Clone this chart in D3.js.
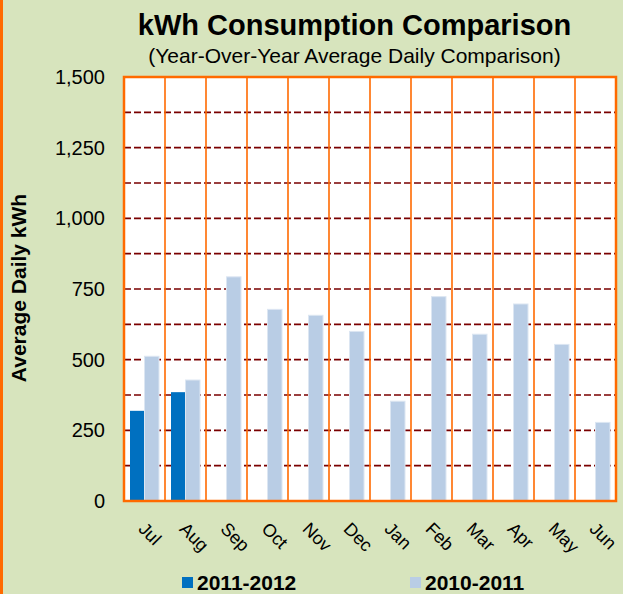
<!DOCTYPE html>
<html>
<head>
<meta charset="utf-8">
<script src="https://cdn.jsdelivr.net/npm/d3@7.9.0/dist/d3.min.js"></script>
<style>
  html, body { margin: 0; padding: 0; background: #D7E4BD; }
  svg { display: block; font-family: "Liberation Sans", Arial, sans-serif; }
</style>
</head>
<body>
<svg id="chart" width="623" height="594"></svg>
<script>
// chart data
const months = ["Jul", "Aug", "Sep", "Oct", "Nov", "Dec", "Jan", "Feb", "Mar", "Apr", "May", "Jun"];
const seriesNames = ["2011-2012", "2010-2011"];
const values2011_12 = [319, 385, null, null, null, null, null, null, null, null, null, null];
const values2010_11 = [512, 428, 793, 678, 657, 600, 353, 723, 590, 697, 554, 278];
const yTicks = [0, 250, 500, 750, 1000, 1250, 1500];
const gridValues = [125, 250, 375, 500, 625, 750, 875, 1000, 1125, 1250, 1375];

const colors = { "2011-2012": "#0070C0", "2010-2011": "#B9CDE5" };
const font = "'Liberation Sans', Arial, sans-serif";

const svg = d3.select("#chart");
const width = 623, height = 594;
const plotLeft = 124, plotRight = 616, plotTop = 77, plotBottom = 501;

// background + left orange edge
svg.append("rect").attr("width", width).attr("height", height).attr("fill", "#D7E4BD");
svg.append("rect").attr("x", 0).attr("y", 0).attr("width", 3).attr("height", height).attr("fill", "#FF6A00");

// titles
svg.append("text").attr("x", 354.5).attr("y", 35).attr("text-anchor", "middle")
    .attr("font-size", 29).attr("font-weight", "bold").attr("fill", "#000")
    .text("kWh Consumption Comparison");
svg.append("text").attr("x", 354.5).attr("y", 63).attr("text-anchor", "middle")
    .attr("font-size", 21).attr("fill", "#000")
    .text("(Year-Over-Year Average Daily Comparison)");

const x0 = d3.scaleBand().domain(months).range([plotLeft, plotRight]).padding(0);
const x1 = d3.scaleBand().domain(seriesNames).range([6, x0.bandwidth() - 6]).padding(0);
const y = d3.scaleLinear().domain([0, 1500]).range([plotBottom, plotTop]);

// plot area
svg.append("rect").attr("x", plotLeft).attr("y", plotTop)
    .attr("width", plotRight - plotLeft).attr("height", plotBottom - plotTop)
    .attr("fill", "#fff");

// horizontal dashed grid
svg.append("g").selectAll("line").data(gridValues).enter().append("line")
    .attr("x1", plotLeft).attr("x2", plotRight)
    .attr("y1", d => y(d)).attr("y2", d => y(d))
    .attr("stroke", "#7A0000").attr("stroke-width", 1.6).attr("stroke-dasharray", "7,3");

// vertical orange grid at category boundaries
svg.append("g").selectAll("line").data(months.slice(1)).enter().append("line")
    .attr("x1", d => x0(d)).attr("x2", d => x0(d))
    .attr("y1", plotTop).attr("y2", plotBottom)
    .attr("stroke", "#FF6A00").attr("stroke-width", 1.6);

// bars
const rows = months.map((m, i) => ({ month: m, vals: [
    { key: "2011-2012", value: values2011_12[i] },
    { key: "2010-2011", value: values2010_11[i] }
] }));

svg.append("g").selectAll("g").data(rows).enter().append("g")
    .attr("transform", d => `translate(${x0(d.month)},0)`)
    .selectAll("rect").data(d => d.vals.filter(v => v.value != null)).enter().append("rect")
    .attr("x", d => x1(d.key))
    .attr("y", d => y(d.value))
    .attr("width", x1.bandwidth())
    .attr("height", d => y(0) - y(d.value))
    .attr("fill", d => colors[d.key])
    .attr("stroke", d => d.key === "2010-2011" ? "#DCE6F2" : "none")
    .attr("stroke-width", 1);

// plot border
svg.append("rect").attr("x", plotLeft).attr("y", plotTop)
    .attr("width", plotRight - plotLeft).attr("height", plotBottom - plotTop)
    .attr("fill", "none").attr("stroke", "#FF6A00").attr("stroke-width", 2.5);

// y axis labels
const yAxis = svg.append("g").attr("transform", `translate(${plotLeft},0)`)
    .call(d3.axisLeft(y).tickValues(yTicks).tickFormat(d3.format(",")).tickSize(0).tickPadding(19));
yAxis.select(".domain").remove();
yAxis.selectAll("text").attr("font-size", 20).attr("fill", "#000").attr("font-family", font);

svg.append("text").attr("transform", "translate(26,288) rotate(-90)")
    .attr("text-anchor", "middle").attr("font-size", 21).attr("font-weight", "bold")
    .text("Average Daily kWh");

// x axis labels, rotated
const xAxis = svg.append("g").attr("transform", `translate(0,${plotBottom})`)
    .call(d3.axisBottom(x0).tickSize(0).tickFormat(d => d));
xAxis.select(".domain").remove();
xAxis.selectAll("text")
    .attr("font-size", 18).attr("fill", "#000").attr("font-family", font)
    .attr("text-anchor", "start").attr("dy", null).attr("y", 0)
    .attr("transform", "translate(-7,29) rotate(45)");

// legend
const legend = svg.append("g").selectAll("g").data(seriesNames).enter().append("g")
    .attr("transform", (d, i) => `translate(${[182, 410][i]},577)`);
legend.append("rect").attr("width", 11).attr("height", 11).attr("fill", d => colors[d]);
legend.append("text").attr("x", 15).attr("y", 13).attr("font-size", 21).attr("font-weight", "bold")
    .text(d => d);
</script>
</body>
</html>
